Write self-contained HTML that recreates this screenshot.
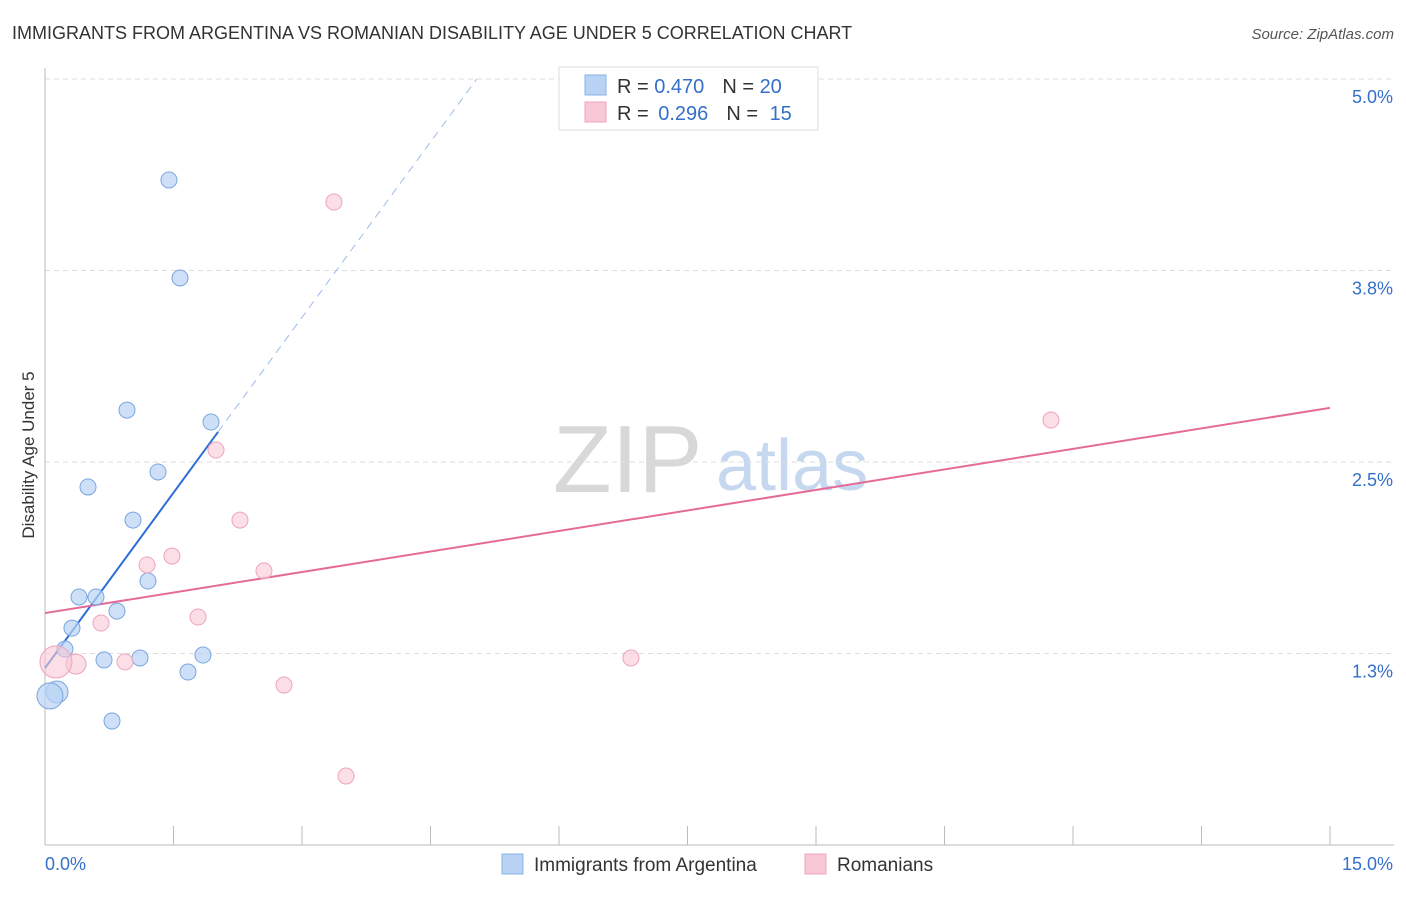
<!DOCTYPE html>
<html><head><meta charset="utf-8"><style>
body{margin:0;background:#fff;font-family:"Liberation Sans",sans-serif;}
svg text{font-family:"Liberation Sans",sans-serif;}
</style></head><body>
<svg id="c" width="1406" height="892" xmlns="http://www.w3.org/2000/svg">
<text x="12" y="39" font-size="18" fill="#333">IMMIGRANTS FROM ARGENTINA VS ROMANIAN DISABILITY AGE UNDER 5 CORRELATION CHART</text>
<text x="1394" y="39" font-size="15" fill="#555" font-style="italic" text-anchor="end">Source: ZipAtlas.com</text>
<text transform="translate(34,455) rotate(-90)" font-size="17" fill="#333" text-anchor="middle">Disability Age Under 5</text>
<g><text x="553" y="492" font-size="96" fill="#d8d8d8" font-family="Liberation Serif">ZIP</text><text x="716" y="490" font-size="72" fill="#c5d8ef">atlas</text></g>
<g id="grid"></g><g id="axes"></g><g id="lines"></g><g id="pts"></g>
<g>
<rect x="559" y="67" width="259" height="63" fill="#fff" stroke="#ddd"/>
<rect x="585" y="75" width="21" height="20" fill="#b8d3f4" stroke="#8ab0e6"/>
<rect x="585" y="102" width="21" height="20" fill="#f9c8d6" stroke="#eea4bb"/>
<text x="617" y="93" font-size="20" fill="#333">R = <tspan fill="#3470c9">0.470</tspan><tspan dx="18">N = </tspan><tspan fill="#3470c9">20</tspan></text>
<text x="617" y="120" font-size="20" fill="#333">R = <tspan fill="#3470c9" dx="4">0.296</tspan><tspan dx="18">N = </tspan><tspan fill="#3470c9" dx="6">15</tspan></text>
</g>
<g>
<rect x="502" y="854" width="21" height="20" fill="#b8d3f4" stroke="#8ab0e6"/>
<text x="534" y="871" font-size="19" fill="#333">Immigrants from Argentina</text>
<rect x="805" y="854" width="21" height="20" fill="#f9c8d6" stroke="#eea4bb"/>
<text x="837" y="871" font-size="19" fill="#333">Romanians</text>
</g>
</svg>
<script>
const blueX=[1.447,1.576,0.957,1.938,1.319,0.502,1.027,1.202,0.397,0.595,0.840,0.315,0.233,0.689,1.109,1.844,1.669,0.140,0.058,0.782];
const blueY=[4.341,3.701,2.839,2.761,2.435,2.337,2.121,1.723,1.619,1.619,1.527,1.416,1.279,1.208,1.221,1.240,1.129,0.999,0.973,0.809];
const blueR=[8,8,8,8,8,8,8,8,8,8,8,8,8,8,8,8,8,11,13,8];
const pinkX=[3.373,1.996,11.743,2.276,1.482,1.191,2.556,1.786,0.654,0.934,0.362,0.128,6.840,2.790,3.514];
const pinkY=[4.197,2.578,2.774,2.121,1.886,1.828,1.789,1.488,1.449,1.195,1.181,1.195,1.221,1.044,0.450];
const pinkR=[8,8,8,8,8,8,8,8,8,8,10,16,8,8,8];
const blueTrend=[1.155,0.763]; // intercept, slope
const pinkTrend=[1.514,0.0893];
const yTicks=[1.25,2.5,3.75,5.0];
const yTickLabels=["1.3%","2.5%","3.8%","5.0%"];
const xTicks=[0,1.5,3,4.5,6,7.5,9,10.5,12,13.5,15];
const NS="http://www.w3.org/2000/svg";
const X=v=>45+v/15*1285, Y=v=>845-v*153.2;
function mk(p,t,a){const e=document.createElementNS(NS,t);for(const k in a)e.setAttribute(k,a[k]);document.getElementById(p).appendChild(e);return e;}
yTicks.forEach((t,i)=>{
 let l=mk('grid','line',{x1:45,x2:1394,y1:Y(t),y2:Y(t),stroke:'#ddd','stroke-dasharray':'5,4'});
 
 
 let tx=mk('grid','text',{x:1393,y:Y(t)+24,'font-size':18,fill:'#3470c9','text-anchor':'end'});
 tx.textContent=yTickLabels[i];
 
 
});
let ax=mk('axes','line',{x1:45,x2:1394,y1:845,y2:845,stroke:'#bbb'});


let ay=mk('axes','line',{x1:45,x2:45,y1:68,y2:845,stroke:'#bbb'});


xTicks.forEach(t=>{let l=mk('axes','line',{x1:X(t),x2:X(t),y1:826,y2:845,stroke:'#bbb'});
 
 });
let x0=mk('axes','text',{x:45,y:870,'font-size':18,fill:'#3470c9'});x0.textContent='0.0%';


let x1=mk('axes','text',{x:1393,y:870,'font-size':18,fill:'#3470c9','text-anchor':'end'});x1.textContent='15.0%';


// trends
const bEnd=2.02, bDashEnd=(5.0-blueTrend[0])/blueTrend[1];
let bl=mk('lines','line',{x1:X(0),y1:Y(blueTrend[0]),x2:X(bEnd),y2:Y(blueTrend[0]+blueTrend[1]*bEnd),stroke:'#2a6fd6','stroke-width':2});


let bd=mk('lines','line',{x1:X(bEnd),y1:Y(blueTrend[0]+blueTrend[1]*bEnd),x2:X(bDashEnd),y2:Y(5.0),stroke:'#9bbbe8','stroke-width':1,'stroke-dasharray':'8,6'});


let pl=mk('lines','line',{x1:X(0),y1:Y(pinkTrend[0]),x2:X(15),y2:Y(pinkTrend[0]+pinkTrend[1]*15),stroke:'#e56b97','stroke-width':2});


blueX.forEach((v,i)=>{let c=mk('pts','circle',{cx:X(v),cy:Y(blueY[i]),r:blueR[i],fill:'rgba(184,211,244,0.7)',stroke:'#7aa6e0','stroke-width':1});
 
 });
pinkX.forEach((v,i)=>{let c=mk('pts','circle',{cx:X(v),cy:Y(pinkY[i]),r:pinkR[i],fill:'rgba(249,200,214,0.6)',stroke:'#eea4bb','stroke-width':1});
 
 });
</script>
</body></html>
